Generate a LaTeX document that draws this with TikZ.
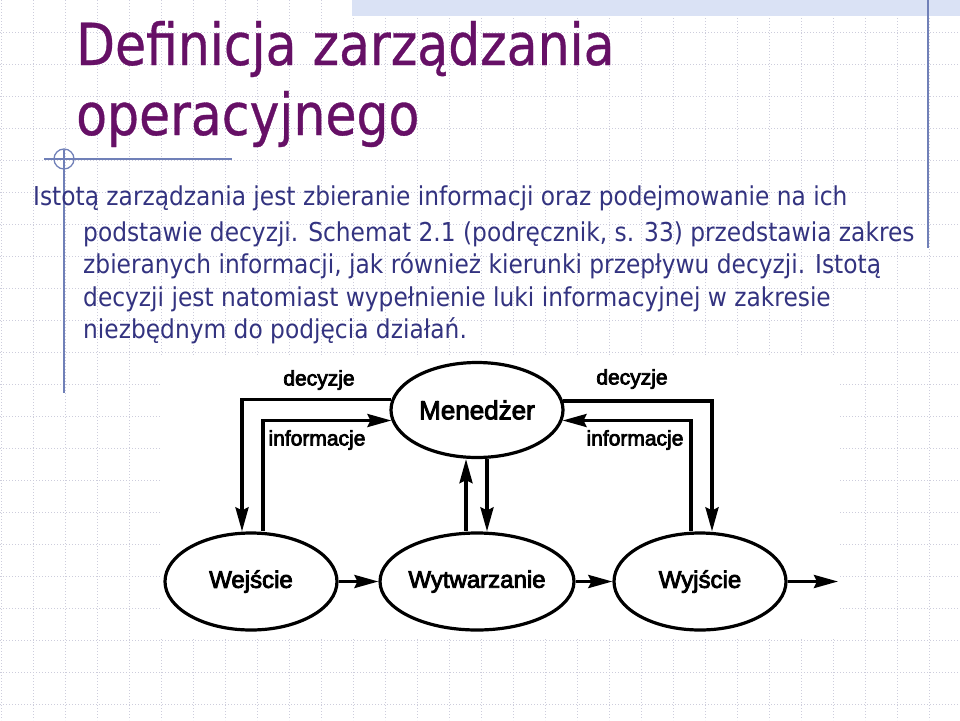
\documentclass[tikz,border=0pt]{standalone}
\usepackage{fontspec}
\setmainfont{DejaVu Sans}
\newfontfamily\titlefont{DejaVu Sans}[FakeStretch=0.87,FakeBold=0.6]
\newfontfamily\bodyfont{DejaVu Sans}[FakeStretch=0.897]
\newfontfamily\diafont{Liberation Sans}[FakeBold=3.5]
\usetikzlibrary{shapes.geometric,arrows.meta}
\definecolor{titlecol}{RGB}{102,16,102}
\definecolor{bodycol}{RGB}{51,51,128}
\definecolor{gridcol}{RGB}{205,205,220}
\definecolor{deco}{RGB}{112,128,184}
\definecolor{band}{RGB}{218,226,245}
\begin{document}
\begin{tikzpicture}[x=1pt,y=-1pt,
  gridline/.style={gridcol, line width=0.8pt, dash pattern=on 1pt off 2pt},
  decoline/.style={deco, line width=1.3pt},
  titletext/.style={anchor=base west, inner sep=0pt, text=titlecol, font=\titlefont\fontsize{58}{70}\selectfont},
  bodytext/.style={anchor=base west, inner sep=0pt, text=bodycol, font=\bodyfont\fontsize{26}{32}\selectfont},
  proc/.style={ellipse, draw, line width=3.2pt, minimum width=172pt, minimum height=97pt, inner sep=0pt, font=\diafont\fontsize{24}{28}\selectfont},
  lbl/.style={inner sep=0pt, font=\diafont\fontsize{21}{24}\selectfont},
  arr/.style={line width=3.3pt, -{Stealth[length=24pt,width=13pt,inset=3pt]}}
]
\useasboundingbox (0,0) rectangle (960,720);
\fill[white] (0,0) rectangle (960,720);
% grid
\foreach \i in {0,...,29} \draw[gridline] (32*\i+1,0) -- (32*\i+1,720);
\foreach \j in {1,...,22} \draw[gridline] (0,32*\j) -- (960,32*\j);
% top band
\fill[band] (352,0) rectangle (960,16);
% white area behind diagram
\fill[white] (160,355) rectangle (840,638);
% decoration lines
\draw[decoline] (64,150) -- (64,393);
\draw[decoline] (44,159) -- (232,159);
\draw[decoline] (64,159) circle[radius=10];
\draw[decoline] (928,0) -- (928,248);
% title
\node[titletext] (t1) at (76,65) {Definicja zarządzania};
\node[titletext] (t2) at (76,135) {operacyjnego};
% body
\node[bodytext] (b1) at (33,205) {Istotą zarządzania jest zbieranie informacji oraz podejmowanie na ich};
\node[bodytext] (b2) at (83,241) {podstawie decyzji. Schemat 2.1 (podręcznik, s. 33) przedstawia zakres};
\node[bodytext] (b3) at (83,273) {zbieranych informacji, jak również kierunki przepływu decyzji. Istotą};
\node[bodytext] (b4) at (83,306) {decyzji jest natomiast wypełnienie luki informacyjnej w zakresie};
\node[bodytext] (b5) at (83,338) {niezbędnym do podjęcia działań.};
% diagram
\node[proc, minimum height=95pt, font=\diafont\fontsize{26}{30}\selectfont] (men) at (477,410) {Menedżer};
\node[proc] (wej) at (251,581.5) {Wejście};
\node[proc] (wyt) at (477,581.5) {Wytwarzanie};
\node[proc] (wyj) at (700,581.5) {Wyjście};
\coordinate (out) at (838,581.5);
\draw[arr] (men.173.9) -| ([xshift=-9pt]wej.north);
\draw[arr] ([xshift=12pt]wej.north) |- (men.187.5);
\draw[arr] ([xshift=-11pt]wyt.north) -- ([xshift=-11pt]men.south);
\draw[arr] ([xshift=10pt]men.south) -- ([xshift=10pt]wyt.north);
\draw[arr] (men.6.1) -| ([xshift=12pt]wyj.north);
\draw[arr] ([xshift=-9pt]wyj.north) |- (men.-7.5);
\draw[arr] (wej) -- (wyt);
\draw[arr] (wyt) -- (wyj);
\draw[arr] (wyj) -- (out);
\node[lbl] (l1) at (319,380) {decyzje};
\node[lbl] (l2) at (632,379) {decyzje};
\node[lbl] (l3) at (317,440) {informacje};
\node[lbl] (l4) at (635,440) {informacje};
\end{tikzpicture}
\end{document}
